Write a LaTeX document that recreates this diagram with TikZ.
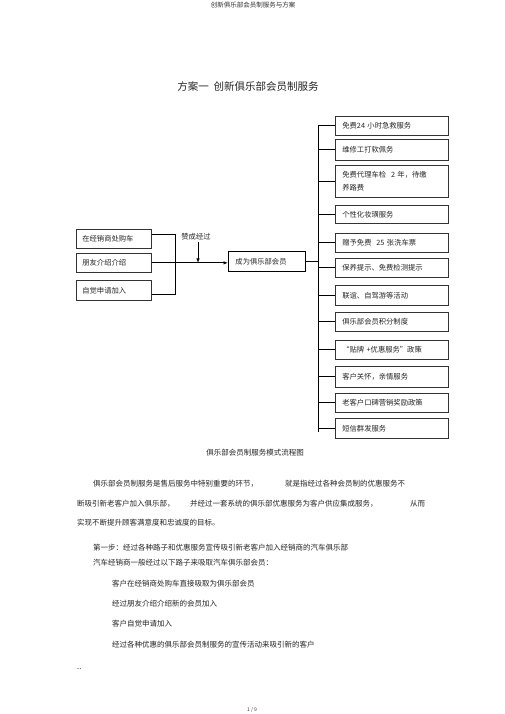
\documentclass[tikz,border=0pt]{standalone}
\usepackage{fontspec}
\setmainfont{Noto Sans CJK SC}
\usetikzlibrary{arrows.meta}
\newcommand\fsbox{\fontsize{7.3}{13}\selectfont}
\newcommand\fsbody{\fontsize{7.5}{9}\selectfont}
\begin{document}
\begin{tikzpicture}[x=1pt,y=-1pt,
  rbox/.style={draw=black!80, line width=0.7pt, anchor=north west, minimum width=113pt,
     inner xsep=7pt, inner ysep=2pt, text width=99pt, align=left, font=\fsbox, text=black!85},
  lbox/.style={draw=black!80, line width=0.7pt, anchor=north west, minimum width=75pt,
     inner xsep=6pt, inner ysep=2pt, text width=63pt, align=left, font=\fsbox, text=black!85},
  cbox/.style={draw=black, line width=0.9pt, anchor=north west, minimum width=77pt,
     inner xsep=7pt, inner ysep=2pt, text width=63pt, align=left, font=\fsbox, text=black!85},
  conn/.style={draw=black, line width=0.8pt},
  arr/.style={conn, -{Latex[length=4.5pt,width=3.5pt]}},
  body/.style={anchor=west, font=\fsbody, text=black!85, inner sep=0pt},
  lbl/.style={font=\fsbox, text=black!85, inner sep=1pt}]
\useasboundingbox (0,0) rectangle (505,714);
\fill[white] (0,0) rectangle (505,714);

% header and title
\node[font=\fontsize{6.5}{8}\selectfont, text=black!80] (hdr) at (253,5) {创新俱乐部会员制服务与方案};
\node[font=\fontsize{10.5}{12}\selectfont, text=black!85] (title) at (248,87) {方案一\ \ 创新俱乐部会员制服务};

% right column boxes
\node[rbox, minimum height=19pt] (r1) at (335,116) {免费24 小时急救服务};
\node[rbox, minimum height=21pt] (r2) at (335,139) {维修工打软佩务};
\node[rbox, minimum height=32pt] (r3) at (335,165) {免费代理车检\ \ 2 年，待缴\\养路费};
\node[rbox, minimum height=18pt] (r4) at (335,205) {个性化妆璜服务};
\node[rbox, minimum height=19pt] (r5) at (335,233) {赠予免费\ \ 25 张洗车票};
\node[rbox, minimum height=19pt] (r6) at (335,258) {保养提示、免费检测提示};
\node[rbox, minimum height=20pt] (r7) at (335,285) {联谊、自驾游等活动};
\node[rbox, minimum height=19pt] (r8) at (335,312) {俱乐部会员积分制度};
\node[rbox, minimum height=19pt] (r9) at (335,340) {“贴牌 +优惠服务”政策};
\node[rbox, minimum height=21pt] (r10) at (335,366) {客户关怀，亲情服务};
\node[rbox, minimum height=19pt] (r11) at (335,393) {老客户口碑营销奖励政策};
\node[rbox, minimum height=20pt] (r12) at (335,418) {短信群发服务};

% spine
\coordinate (sp) at (318,0);
\draw[conn, shorten >=-4pt] (sp |- r1.west) -- (sp |- r12.west);
\foreach \i in {1,...,12} {\draw[conn] (sp |- r\i.west) -- (r\i.west);}

% left boxes
\node[lbox, minimum height=19pt] (l1) at (76,229) {在经销商处购车};
\node[lbox, minimum height=19pt] (l2) at (76,253) {朋友介绍介绍};
\node[lbox, minimum height=20pt] (l3) at (76,280) {自觉申请加入};

% centre box
\node[cbox, minimum height=20pt] (cb) at (228,251) {成为俱乐部会员};

% bracket
\coordinate (bk) at (175,0);
\coordinate (c1) at ([yshift=4.5pt]l1.east);
\coordinate (c3) at ([yshift=-4pt]l3.east);
\draw[conn] (c1) -- (c1 -| bk) -- (c3 -| bk) -- (c3);
\draw[arr] (l2.east) -- (l2.east -| cb.west);
\draw[conn] (cb.east) -- (cb.east -| sp);

% label and down arrow
\node[lbl] (lab) at (196,237) {赞成经过};
\coordinate (da) at (198,0);
\draw[arr] (da |- lab.south) -- (da |- l2.east);

% caption
\node[font=\fsbody, text=black!85] (cap) at (255,453) {俱乐部会员制服务模式流程图};

% paragraph
\node[body] (p1a) at (93,484) {俱乐部会员制服务是售后服务中特别重要的环节，};
\node[body] (p1b) at (285,484) {就是指经过各种会员制的优惠服务不};
\node[body] (p2a) at (77,504) {断吸引新老客户加入俱乐部，};
\node[body] (p2b) at (190,504) {并经过一套系统的俱乐部优惠服务为客户供应集成服务，};
\node[body] (p2c) at (410,504) {从而};
\node[body] (p3) at (77,523) {实现不断提升顾客满意度和忠诚度的目标。};

\node[body] (s1) at (93,548) {第一步：经过各种路子和优惠服务宣传吸引新老客户加入经销商的汽车俱乐部};
\node[body] (s2) at (93,563) {汽车经销商一般经过以下路子来吸取汽车俱乐部会员：};
\node[body] (s3) at (112,584) {客户在经销商处购车直接吸取为俱乐部会员};
\node[body] (s4) at (112,604) {经过朋友介绍介绍新的会员加入};
\node[body] (s5) at (112,624) {客户自觉申请加入};
\node[body] (s6) at (112,645) {经过各种优惠的俱乐部会员制服务的宣传活动来吸引新的客户};

\node[body] (dots) at (77,669) {..};
\node[font=\fontsize{5}{6}\selectfont, text=black!80] (pg) at (252,710) {1 / 9};
\end{tikzpicture}
\end{document}
